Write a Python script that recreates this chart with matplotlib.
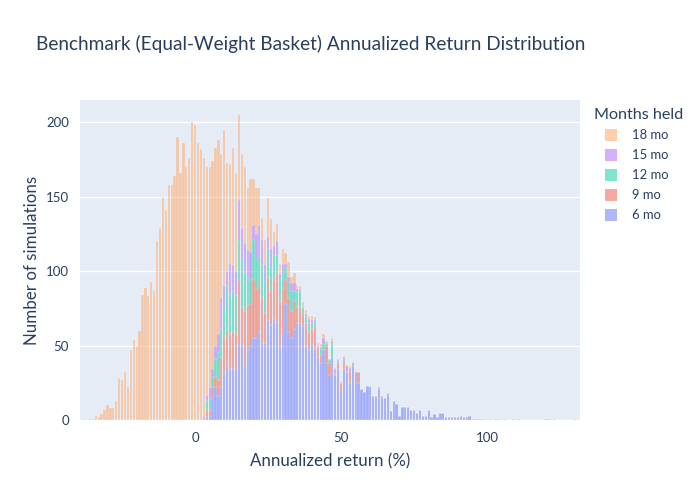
import numpy as np
import matplotlib
matplotlib.use('Agg')
from matplotlib import pyplot as plt
from matplotlib.patches import Rectangle

# histogram counts per 1% bin
# bin centers start at the *_start value, one count per integer step
start_6 = 3
counts_6 = [1, 2, 3, 15, 22, 16, 22, 31, 36, 34, 34, 34, 51, 51, 36, 47, 50, 55, 55,
            59, 52, 52, 67, 64, 68, 65, 50, 58, 78, 59, 55, 61, 65, 65, 63, 50, 47, 51,
            48, 42, 38, 47, 38, 30, 42, 30, 34, 19, 34, 32, 25, 36, 32, 25, 20, 19, 23,
            22, 16, 15, 21, 15, 15, 17, 6, 13, 11, 3, 9, 9, 9, 7, 6, 5, 7, 3, 3, 7, 2,
            4, 2, 5, 5, 2, 2, 2, 2, 2, 3, 2, 2, 3, 1, 1, 1, 1, 1, 0, 1, 0, 1, 1, 0, 1,
            0, 0, 1, 0, 1, 0, 0, 0, 0, 0, 0, 0, 0, 1, 1, 0, 1, 0, 0, 0, 0, 0, 0, 1]
start_9 = 3
counts_9 = [1, 5, 4, 7, 7, 11, 20, 25, 24, 24, 25, 24, 43, 25, 37, 30, 28, 40, 33,
            31, 30, 20, 29, 22, 26, 33, 29, 30, 16, 23, 18, 19, 11, 11, 8, 15, 12, 10,
            15, 7, 6, 0, 12, 8, 0, 1, 4, 6, 5, 4, 8, 2, 0, 7, 1, 0, 0, 0, 0, 1, 0, 1,
            0, 1, 0, 0, 0, 0, 0, 0, 0, 0, 1]
start_12 = 4
counts_12 = [6, 7, 7, 12, 19, 19, 19, 30, 26, 28, 26, 27, 32, 26, 19, 16, 26, 20,
             20, 22, 21, 19, 16, 17, 13, 15, 10, 8, 11, 14, 7, 10, 10, 4, 4, 6, 4, 3,
             0, 4, 4, 1, 2, 9, 0, 0, 0, 2, 0, 0, 1, 0, 0, 0, 0, 0, 1]
start_15 = 3
counts_15 = [1, 4, 8, 5, 9, 12, 21, 15, 10, 21, 17, 16, 27, 21, 20, 18, 19, 10, 17,
             21, 17, 11, 8, 13, 6, 9, 4, 7, 3, 3, 5, 5, 2, 2, 1, 2, 3, 2, 1, 1, 1, 4,
             1, 0, 2, 3, 2, 0, 1, 1, 2, 0, 0, 0, 0, 0, 0, 0, 0, 0, 1]
start_18 = -38
counts_18 = [1, 0, 1, 1, 3, 2, 4, 7, 10, 8, 8, 13, 28, 27, 32, 22, 47, 54, 50, 60,
             84, 89, 83, 93, 87, 120, 129, 150, 141, 158, 158, 164, 190, 166, 186,
             170, 176, 200, 198, 186, 182, 173, 153, 148, 140, 133, 130, 97, 105, 73,
             67, 79, 66, 57, 50, 51, 42, 49, 31, 31, 25, 15, 17, 26, 20, 9, 12, 7,
             10, 7, 10, 4, 7, 3, 2, 3, 3, 2, 3, 2, 2, 2, 3, 1, 1, 2, 1, 1, 1, 1, 0,
             1, 0, 1, 0, 0]

series_labels = ['6 mo', '9 mo', '12 mo', '15 mo', '18 mo']
series_colors = ['#636EFA', '#EF553B', '#00CC96', '#AB63FA', '#FFA15A']

font = ['Lato', 'DejaVu Sans']
text_color = '#2a3f5f'
plt.rcParams['font.family'] = font

W, H = 700, 500
fig = plt.figure(figsize=(7, 5), dpi=100)
ax = fig.add_axes([80 / W, 80 / H, 500 / W, 320 / H])
ax.set_facecolor('#E5ECF6')

lo = min(start_6, start_9, start_12, start_15, start_18)
hi = 131
xs = np.arange(lo, hi + 1)
bottom = np.zeros(len(xs))
all_series = [(start_6, counts_6), (start_9, counts_9), (start_12, counts_12),
              (start_15, counts_15), (start_18, counts_18)]
for (st, cnt), label, color in zip(all_series, series_labels, series_colors):
    vals = np.zeros(len(xs))
    vals[st - lo:st - lo + len(cnt)] = cnt
    ax.bar(xs, vals, width=0.78, bottom=bottom, color=color, alpha=0.5,
           edgecolor='white', linewidth=0.25, zorder=3)
    bottom += vals

ax.set_xlim(-39.4, 131.8)
ax.set_ylim(0, 215)
ax.set_xticks([0, 50, 100])
ax.set_yticks([0, 50, 100, 150, 200])
ax.grid(axis='y', color='white', linewidth=1, zorder=0)
ax.set_axisbelow(True)
for s in ax.spines.values():
    s.set_visible(False)
ax.tick_params(length=0, labelsize=9.5, labelcolor=text_color)
ax.tick_params(axis='x', pad=9)
ax.tick_params(axis='y', pad=8)

ax.set_xlabel('Annualized return (%)', fontsize=12.2, color=text_color, labelpad=6)
ax.set_ylabel('Number of simulations', fontsize=12.2, color=text_color, labelpad=4)
fig.text(36 / W, 1 - 44 / H, 'Benchmark (Equal-Weight Basket) Annualized Return Distribution',
         fontsize=13.7, color=text_color, va='center', ha='left')

# legend, laid out like the plotly one
fig.text(594 / W, 1 - 115 / H, 'Months held', fontsize=11.6, color=text_color,
         va='center', ha='left')
for i, (label, color) in enumerate(zip(series_labels[::-1], series_colors[::-1])):
    yc = 135 + 20 * i
    fig.patches.append(Rectangle((605 / W, 1 - (yc + 6) / H), 12 / W, 12 / H,
                                 transform=fig.transFigure, facecolor=color,
                                 alpha=0.5, edgecolor='none'))
    fig.text(632 / W, 1 - yc / H, label, fontsize=9.4, color=text_color,
             va='center', ha='left')

fig.savefig('out.png', dpi=100)
